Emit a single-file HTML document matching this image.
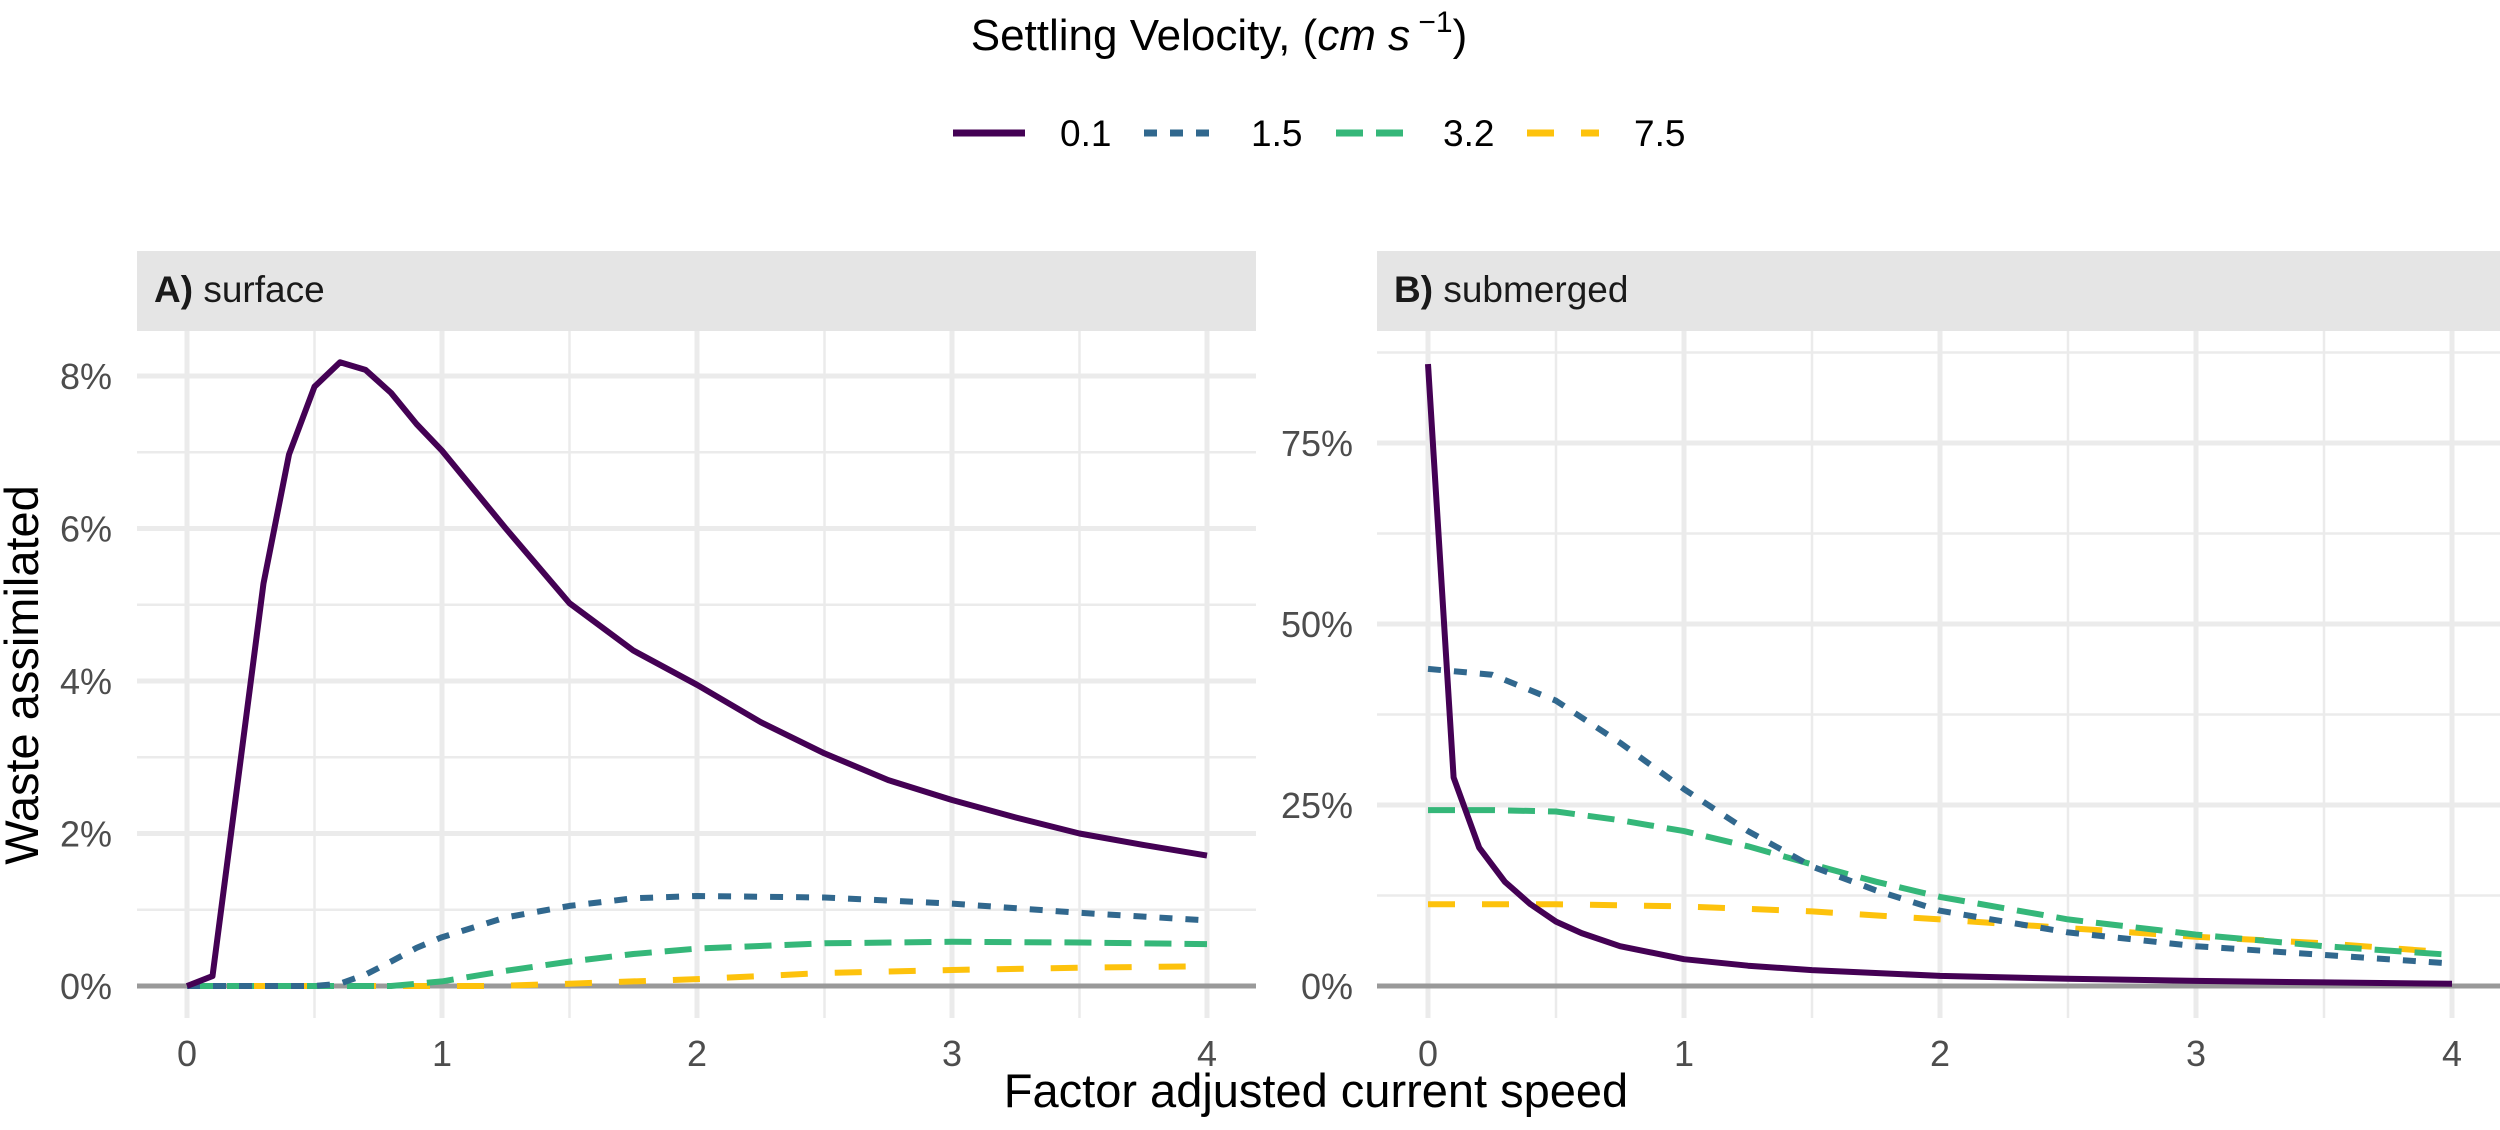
<!DOCTYPE html>
<html><head><meta charset="utf-8"><style>
html,body{margin:0;padding:0;background:#fff;}
svg{display:block;font-family:"Liberation Sans",Arial,sans-serif;}
</style></head><body>
<svg id="chart" width="2500" height="1130" viewBox="0 0 2500 1130" xmlns="http://www.w3.org/2000/svg">
<text x="1219" y="50" font-size="44" text-anchor="middle" fill="#000">Settling Velocity, (<tspan font-style="italic">cm</tspan> <tspan font-style="italic">s</tspan><tspan font-size="30" dy="-18"> −1</tspan><tspan dy="18">)</tspan></text>
<g id="legend"></g>
<g id="panels"></g>
<text x="1316" y="1107" font-size="47" text-anchor="middle" fill="#000">Factor adjusted current speed</text>
<text transform="translate(38,675) rotate(-90)" font-size="47" text-anchor="middle" fill="#000">Waste assimilated</text>
</svg>
<script>
// ---- data ----
const seriesNames = ["0.1","1.5","3.2","7.5"];
const xTickLabels = ["0","1","2","3","4"];
const yTicksA = [0,2,4,6,8];
const yTickLabelsA = ["0%","2%","4%","6%","8%"];
const yTicksB = [0,25,50,75];
const yTickLabelsB = ["0%","25%","50%","75%"];

const xA01 = [0,0.1,0.2,0.3,0.4,0.5,0.6,0.7,0.8,0.9,1.0,1.25,1.5,1.75,2.0,2.25,2.5,2.75,3.0,3.25,3.5,3.75,4.0];
const yA01 = [0,0.13,2.7,5.28,6.97,7.86,8.18,8.08,7.78,7.37,7.02,6.0,5.02,4.4,3.95,3.46,3.05,2.7,2.44,2.21,2.0,1.85,1.71];
const xA15 = [0,0.5,0.6,0.7,0.8,0.9,1.0,1.25,1.5,1.75,2.0,2.5,3.0,3.5,4.0];
const yA15 = [0,0,0.03,0.15,0.32,0.5,0.64,0.9,1.05,1.15,1.18,1.16,1.08,0.96,0.86];
const xA32 = [0,0.8,1.0,1.25,1.5,1.75,2.0,2.5,3.0,3.5,4.0];
const yA32 = [0,0,0.06,0.2,0.32,0.42,0.49,0.56,0.58,0.57,0.55];
const xA75 = [0,1.2,1.5,2.0,2.5,3.0,3.5,4.0];
const yA75 = [0,0,0.03,0.09,0.17,0.21,0.24,0.26];

const xB01 = [0,0.1,0.2,0.3,0.4,0.5,0.6,0.75,1.0,1.25,1.5,2.0,2.5,3.0,3.5,4.0];
const yB01 = [85.9,28.8,19.1,14.4,11.3,8.9,7.3,5.5,3.7,2.8,2.2,1.4,1.0,0.7,0.5,0.3];
const xB15 = [0,0.25,0.5,0.75,1.0,1.25,1.5,1.75,2.0,2.5,3.0,3.5,4.0];
const yB15 = [43.8,43.0,39.4,33.6,27.2,21.4,16.5,13.2,10.4,7.4,5.5,4.3,3.1];
const xB32 = [0,0.25,0.5,0.75,1.0,1.25,1.5,1.75,2.0,2.5,3.0,3.5,4.0];
const yB32 = [24.3,24.3,24.1,22.9,21.4,19.3,16.8,14.4,12.3,9.2,7.1,5.5,4.3];
const xB75 = [0,0.5,1.0,1.5,2.0,2.5,3.0,3.5,4.0];
const yB75 = [11.3,11.3,11.0,10.3,9.2,8.0,6.8,5.9,4.6];

const colors = ["#440154","#31688E","#35B779","#FDC20C"];
const dashes = ["", "13 13", "27 13", "27 27"];

const NS="http://www.w3.org/2000/svg";
function mk(tag, attrs, parent){const e=document.createElementNS(NS,tag);for(const k in attrs)e.setAttribute(k,attrs[k]);if(parent)parent.appendChild(e);return e;}

// legend
const leg=document.getElementById('legend');
const legX=[953,1144,1336,1527];
for(let i=0;i<4;i++){
  const l=mk('line',{x1:legX[i],x2:legX[i]+72,y1:133,y2:133,stroke:colors[i],'stroke-width':7,'stroke-dasharray':dashes[i]||'none'},leg);
  
  
  const t=mk('text',{x:legX[i]+107,y:146,'font-size':37,fill:'#000'},leg);
  t.textContent=seriesNames[i];
  
  
}

function panel(opts){
  const g=mk('g',{},document.getElementById('panels'));
  
  
  const L=opts.left,R=opts.right,T=331,B=1018;
  const xs=v=>opts.x0+v*opts.xu;
  const ys=v=>opts.y0-v*opts.yu;
  const s=mk('rect',{x:L,y:251,width:R-L,height:80,fill:'#e5e5e5'},g);
  
  
  const st=mk('text',{x:L+17,y:302,'font-size':37,fill:'#1a1a1a'},g);
  st.innerHTML='<tspan font-weight="bold">'+opts.letter+')</tspan> '+opts.label;
  
  
  for(let k=0;k<4;k++){const v=k+0.5;const gl=mk('line',{x1:xs(v),x2:xs(v),y1:T,y2:B,stroke:'#ebebeb','stroke-width':2.5},g);}
  for(let k=0;k<opts.yt.length;k++){const v=opts.yt[k]+opts.ystep/2;if(ys(v)<T)continue;const gl=mk('line',{x1:L,x2:R,y1:ys(v),y2:ys(v),stroke:'#ebebeb','stroke-width':2.5},g);}
  for(let i=0;i<xTickLabels.length;i++){const v=+xTickLabels[i];const gl=mk('line',{x1:xs(v),x2:xs(v),y1:T,y2:B,stroke:'#ebebeb','stroke-width':5},g);
    const t=mk('text',{x:xs(v),y:1066,'font-size':36,fill:'#4d4d4d','text-anchor':'middle'},g);t.textContent=xTickLabels[i];}
  for(let i=0;i<opts.yt.length;i++){const v=opts.yt[i];
    if(v!==0){const gl=mk('line',{x1:L,x2:R,y1:ys(v),y2:ys(v),stroke:'#ebebeb','stroke-width':5},g);}
    const t=mk('text',{x:opts.labX,y:ys(v)+13,'font-size':36,fill:'#4d4d4d','text-anchor':'end'},g);t.textContent=opts.ytl[i];}
  const z=mk('line',{x1:L,x2:R,y1:ys(0),y2:ys(0),stroke:'#999999','stroke-width':5},g);
  
  
  for(let i=opts.series.length-1;i>=0;i--){
    const [xa,ya]=opts.series[i];
    const d=xa.map((x,j)=>(j?'L':'M')+xs(x).toFixed(1)+','+ys(ya[j]).toFixed(1)).join('');
    const p=mk('path',{d:d,fill:'none',stroke:colors[i],'stroke-width':6,'stroke-linejoin':'round','stroke-dasharray':dashes[i]||'none'},g);
    
    
  }
}
panel({name:'panel-surface',letter:'A',label:'surface',left:137,right:1256,x0:187,xu:255,y0:986,yu:76.25,yt:yTicksA,ytl:yTickLabelsA,ystep:2,labX:112,
  series:[[xA01,yA01],[xA15,yA15],[xA32,yA32],[xA75,yA75]]});
panel({name:'panel-submerged',letter:'B',label:'submerged',left:1377,right:2500,x0:1428,xu:256,y0:986,yu:7.24,yt:yTicksB,ytl:yTickLabelsB,ystep:25,labX:1353,
  series:[[xB01,yB01],[xB15,yB15],[xB32,yB32],[xB75,yB75]]});
</script>
</body></html>
